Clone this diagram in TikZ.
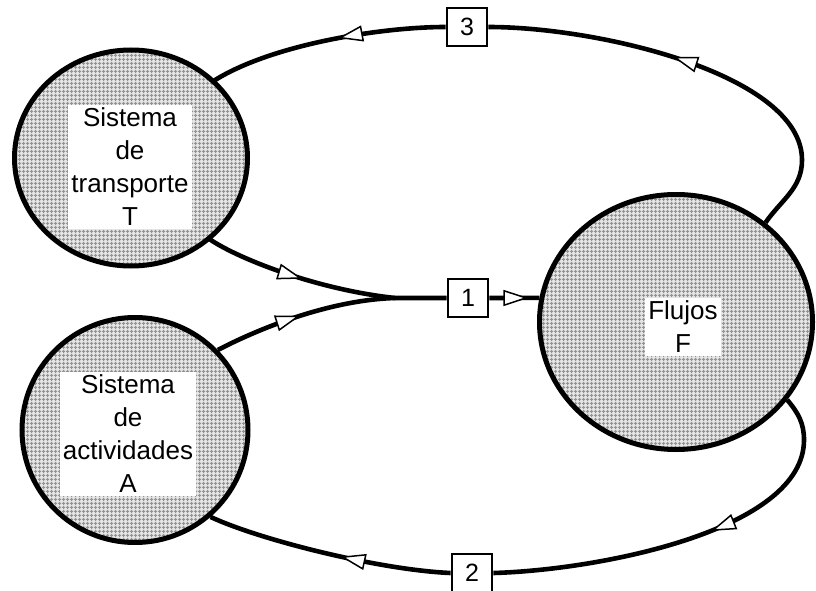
\documentclass[tikz,border=0pt]{standalone}
\usepackage{fontspec}
\setmainfont{Liberation Sans}
\usetikzlibrary{arrows.meta, shapes.geometric, patterns.meta, decorations.markings}

\tikzset{tri/.tip={Triangle[fill=white, length=25pt, width=16pt, line width=1.5pt]}}

\begin{document}
\begin{tikzpicture}[x=1pt, y=1pt,
    sys/.style={ellipse, draw, line width=5pt, inner sep=0pt,
      preaction={fill=gray!20},
      pattern={Hatch[distance=4pt, angle=0, line width=1.2pt]}, pattern color=gray!85},
    lab/.style={fill=white, align=center, inner sep=3pt, font=\fontsize{26}{33}\selectfont},
    num/.style={draw, line width=2.8pt, fill=white, minimum width=40pt, minimum height=38pt,
      inner sep=0pt, font=\fontsize{25}{25}\selectfont},
    flow/.style={line width=4.6pt, postaction={decorate},
      decoration={markings, mark=at position #1 with {\arrow{tri}}}},
    flow/.default=0.5]
      \useasboundingbox (0,0) rectangle (816,590);
      % sistemas
      \node[sys, minimum width=233pt, minimum height=216pt] (T) at (131,432) {};
      \node[sys, minimum width=226pt, minimum height=225pt] (A) at (135,160) {};
      \node[sys, minimum width=273pt, minimum height=255pt] (F) at (676,268) {};
      \node[lab] (TL) at (130,423) {Sistema\\de\\transporte\\T};
      \node[lab] (AL) at (128,156) {Sistema\\de\\actividades\\A};
      \node[lab] (FL) at (683,263) {Flujos\\F};
      % relaciones
      \node[num] (B1) at (468,292) {1};
      \node[num] (B2) at (472,17) {2};
      \node[num] (B3) at (467,563) {3};
      \coordinate (M) at (395,292);
      \coordinate (RT) at (802,430);
      \coordinate (RB) at (804,150);

      \draw[flow=0.41] (T.-46) .. controls (240,330) and (320,300) .. (M) -- (B1.west);
      \draw[flow=0.48] (A.44) .. controls (260,262) and (330,290) .. (M);
      \draw[flow=0.78] (B1.east) -- (F.170);
      \draw[flow=0.57] (F.48) to[out=55,in=-90] (RT) .. controls (802,515) and (600,563) .. (B3.east);
      \draw[flow=0.45] (B3.west) .. controls (380,563) and (270,545) .. (T.43);
      \draw[flow=0.45] (F.-35) to[out=-50,in=90] (RB) .. controls (804,60) and (600,20) .. (B2.east);
      \draw[flow=0.45] (B2.west) .. controls (380,20) and (260,50) .. (A.-49);
\end{tikzpicture}
\end{document}
